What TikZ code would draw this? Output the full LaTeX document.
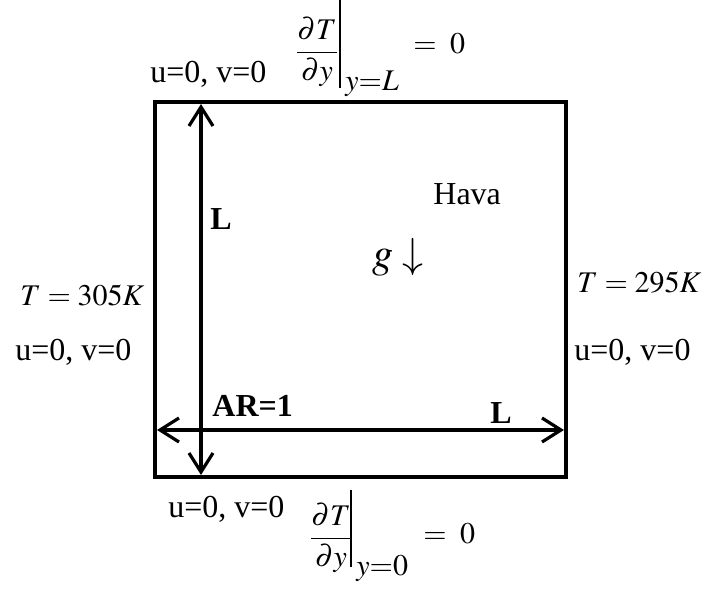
\documentclass[tikz,border=0pt]{standalone}
\usepackage{amsmath}
\usepackage{mathptmx}
\usepackage{fontspec}
\setmainfont{Liberation Serif}
\usetikzlibrary{arrows.meta}
\tikzset{
    wall/.style={line width=1.6pt},
    dimline/.style={line width=1.6pt, {Straight Barb[length=9.5pt,width=12pt]}-{Straight Barb[length=9.5pt,width=12pt]}},
    evalbar/.style={line width=0.9pt},
    lbl/.style={inner sep=0pt, anchor=base west, font=\fontsize{16}{19}\selectfont},
    boldlbl/.style={lbl, font=\fontsize{16}{19}\selectfont\bfseries},
    eqn/.style={inner sep=0pt, font=\fontsize{15}{18}\selectfont},
}
\begin{document}
\begin{tikzpicture}[x=0.5pt,y=-0.5pt]
    \useasboundingbox (0,0) rectangle (705,592);
    % cavity
    \draw[wall] (155,102) rectangle (566,477);
    \coordinate (vtop) at (201,104);
    \coordinate (vbot) at (201,475);
    \coordinate (hleft) at (157,430);
    \coordinate (hright) at (564,430);
    \draw[dimline] (vtop) -- (vbot);
    \draw[dimline] (hleft) -- (hright);
    \node[boldlbl] (Lvert) at (210,230) {L};
    \node[boldlbl] (aspect) at (212,416) {AR=1};
    \node[boldlbl] (Lhoriz) at (490,423) {L};
    \node[lbl] (fluid) at (433,205) {Hava};
    \node[lbl, font=\fontsize{21}{25}\selectfont] (gravity) at (372,268) {$g\downarrow$};
    % top wall
    \node[lbl] (topuv) at (150,83) {u=0, v=0};
    \node[eqn] (topfrac) at (317,52) {$\dfrac{\partial T}{\partial y}$};
    \draw[evalbar] (340,0) -- (340,88);
    \node[eqn, anchor=base west] (topsub) at (345,91) {$y{=}L$};
    \node[eqn, anchor=base west] (topzero) at (413,54) {$=\;0$};
    % bottom wall
    \node[lbl] (botuv) at (168,517) {u=0, v=0};
    \node[eqn] (botfrac) at (331,538) {$\dfrac{\partial T}{\partial y}$};
    \draw[evalbar] (351,490) -- (351,567);
    \node[eqn, anchor=base west] (botsub) at (356,575) {$y{=}0$};
    \node[eqn, anchor=base west] (botzero) at (423,543) {$=\;0$};
    % side walls
    \node[lbl, font=\fontsize{15}{18}\selectfont] (leftT) at (20,306) {$T = 305K$};
    \node[lbl] (leftuv) at (15,360) {u=0, v=0};
    \node[lbl, font=\fontsize{15}{18}\selectfont] (rightT) at (577,293) {$T = 295K$};
    \node[lbl] (rightuv) at (574,360) {u=0, v=0};
\end{tikzpicture}
\end{document}
